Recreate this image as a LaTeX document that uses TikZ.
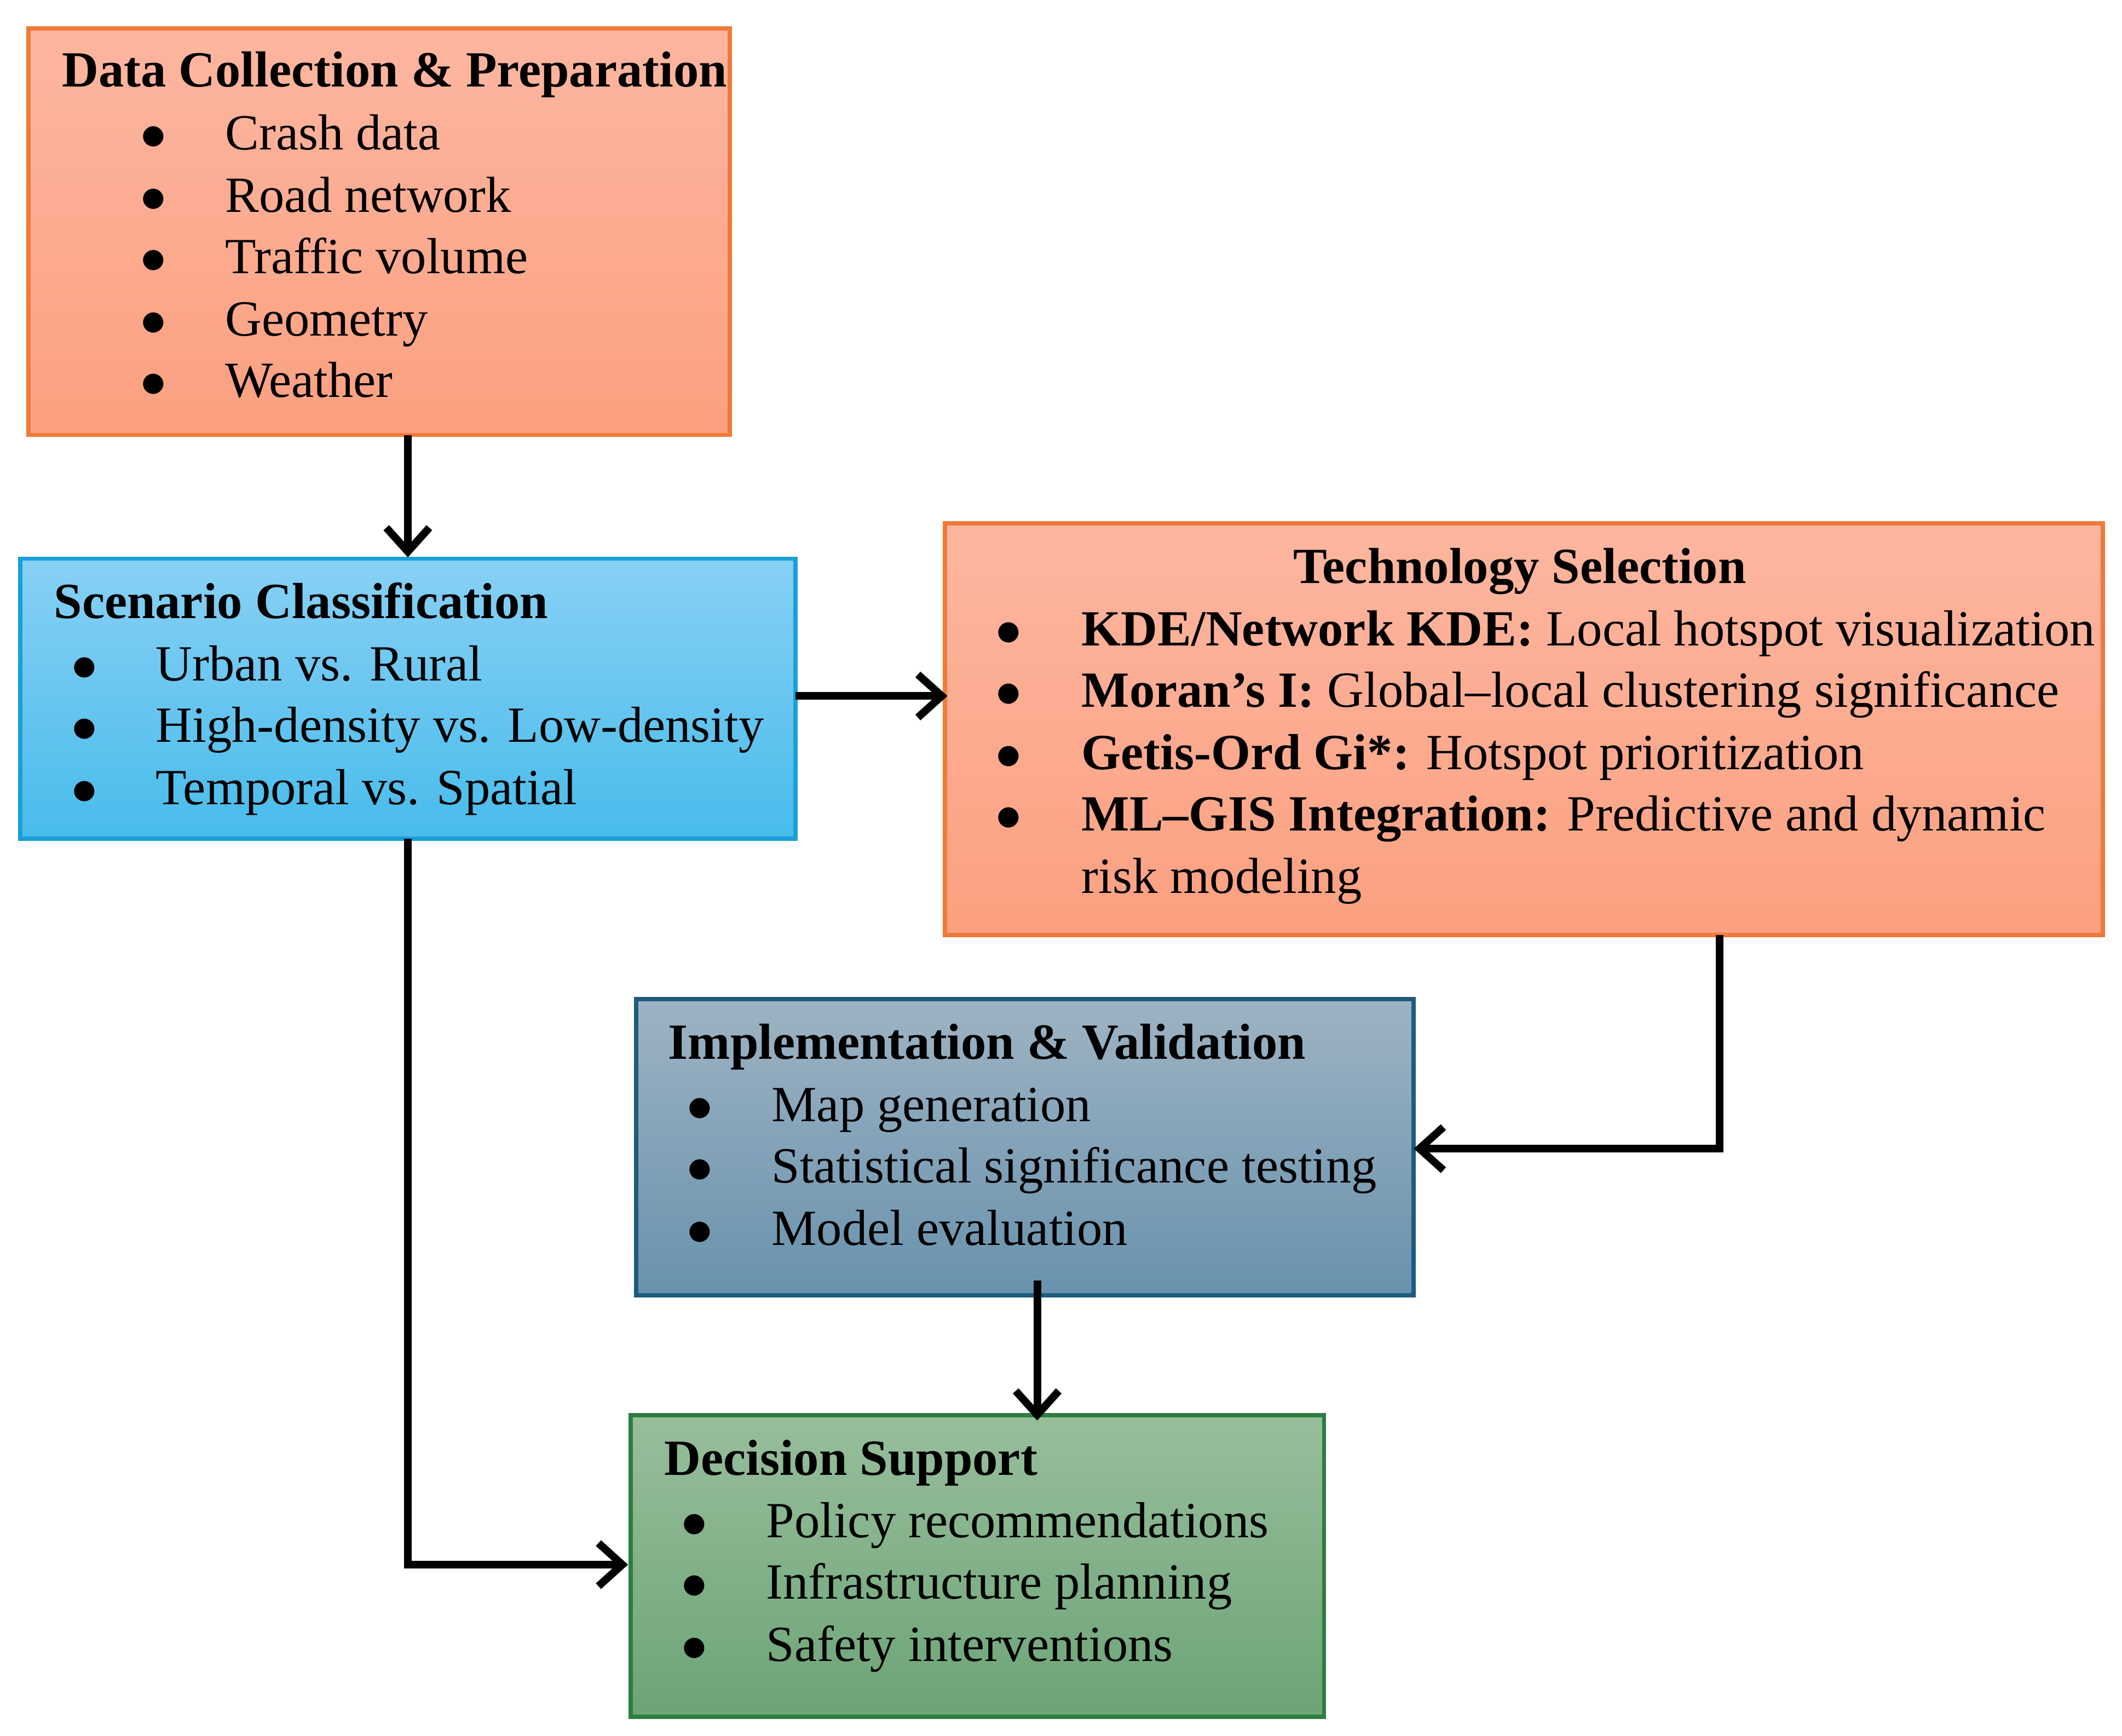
\documentclass[tikz,border=0pt]{standalone}
\usepackage{fontspec}
\setmainfont{Liberation Serif}
\begin{document}
\begin{tikzpicture}[x=0.01cm,y=-0.01cm,
 box/.style={line width=0.9pt},
 t/.style={anchor=base west,inner sep=0pt,font=\fontsize{10.6}{12}\selectfont},
 b/.style={anchor=base,inner sep=0pt,font=\fontsize{10.6}{12}\selectfont},
 arr/.style={line width=1.6pt,->,>={Straight Barb[length=5pt,width=9pt]}}]
\usetikzlibrary{arrows.meta}
\definecolor{oT}{HTML}{FDB6A0}\definecolor{oB}{HTML}{FBA080}\definecolor{oL}{HTML}{F07A3A}
\definecolor{bT}{HTML}{88D0F5}\definecolor{bB}{HTML}{48BCEB}\definecolor{bL}{HTML}{1A9FD8}
\definecolor{sT}{HTML}{9EB3C3}\definecolor{sB}{HTML}{6892AD}\definecolor{sL}{HTML}{1E5B7E}
\definecolor{gT}{HTML}{98BE9C}\definecolor{gB}{HTML}{6CA476}\definecolor{gL}{HTML}{2E7D40}
\useasboundingbox (0,0) rectangle (1561,1277);
\draw[box,draw=oL,top color=oT,bottom color=oB] (21,21) rectangle (537,320);
\draw[box,draw=bL,top color=bT,bottom color=bB] (15,411) rectangle (585,617);
\draw[box,draw=oL,top color=oT,bottom color=oB] (695,385) rectangle (1547,688);
\draw[box,draw=sL,top color=sT,bottom color=sB] (468,735) rectangle (1040,953);
\draw[box,draw=gL,top color=gT,bottom color=gB] (464,1041) rectangle (974,1263);
\node[coordinate] (b1s) at (300,320) {};\node[coordinate] (b2n) at (300,410) {};
\node[coordinate] (b2e) at (585,512) {};\node[coordinate] (b3w) at (697,512) {};
\node[coordinate] (b3s) at (1265,688) {};\node[coordinate] (b4e) at (1040,845) {};
\node[coordinate] (b4s) at (763,942) {};\node[coordinate] (b5n) at (763,1045) {};
\node[coordinate] (b2s) at (300,617) {};\node[coordinate] (b5w) at (462,1151) {};
\draw[arr] (b1s)--(b2n);
\draw[arr] (b2e)--(b3w);
\draw[arr] (b3s)|-(b4e);
\draw[arr] (b4s)--(b5n);
\draw[arr] (b2s)|-(b5w);
% box1
\node[t] (h1) at (45,64) {\textbf{Data Collection \& Preparation}};
\foreach \s/\y [count=\i] in {Crash data/110,Road network/156,Traffic volume/201,Geometry/247,Weather/292}{
 \node[b] (d\i) at (113,\y) {$\bullet$}; \node[t] (e\i) at (165,\y) {\s};}
% box2
\node[t] (h2) at (39,455) {\textbf{Scenario Classification}};
\foreach \s/\y [count=\i] in {Urban vs. Rural/501,High-density vs. Low-density/546,Temporal vs. Spatial/592}{
 \node[b] (f\i) at (62,\y) {$\bullet$}; \node[t] (g\i) at (114,\y) {\s};}
% box3
\node[b] (h3) at (1118,429) {\textbf{Technology Selection}};
\foreach \s/\y [count=\i] in {{\textbf{KDE/Network KDE:} Local hotspot visualization}/475,{\textbf{Moran’s I:} Global–local clustering significance}/520,{\textbf{Getis-Ord Gi*:} Hotspot prioritization}/566,{\textbf{ML–GIS Integration:} Predictive and dynamic}/611}{
 \node[b] (k\i) at (742,\y) {$\bullet$}; \node[t] (m\i) at (795,\y) {\s};}
\node[t] (m5) at (795,657) {risk modeling};
% box4
\node[t] (h4) at (491,779) {\textbf{Implementation \& Validation}};
\foreach \s/\y [count=\i] in {Map generation/825,Statistical significance testing/870,Model evaluation/916}{
 \node[b] (p\i) at (515,\y) {$\bullet$}; \node[t] (q\i) at (567,\y) {\s};}
% box5
\node[t] (h5) at (488,1085) {\textbf{Decision Support}};
\foreach \s/\y [count=\i] in {Policy recommendations/1131,Infrastructure planning/1176,Safety interventions/1222}{
 \node[b] (r\i) at (511,\y) {$\bullet$}; \node[t] (u\i) at (563,\y) {\s};}
\end{tikzpicture}
\end{document}
